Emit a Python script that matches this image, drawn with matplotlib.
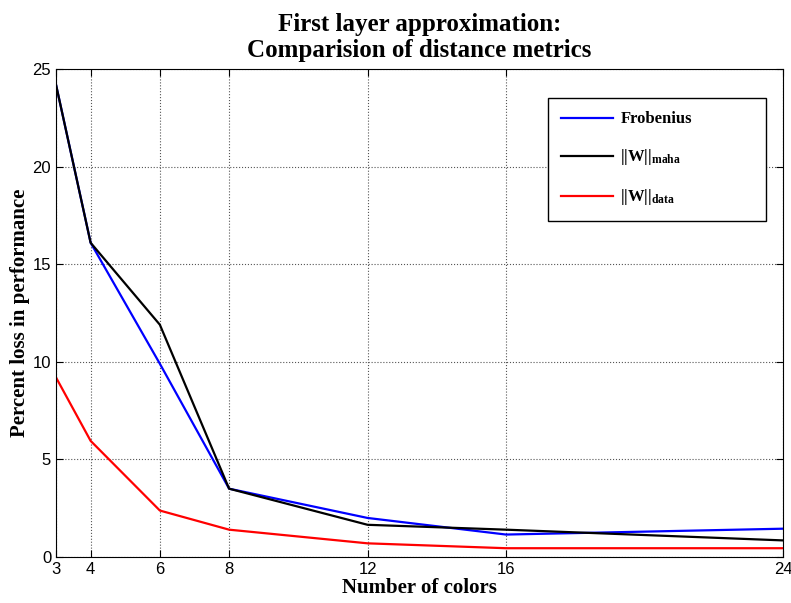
import matplotlib
matplotlib.use("Agg")
import matplotlib.pyplot as plt

colors_n = [3, 4, 6, 8, 12, 16, 24]
frobenius = [24.2, 16.1, 9.9, 3.5, 2.0, 1.15, 1.45]
maha = [24.2, 16.1, 11.9, 3.5, 1.65, 1.4, 0.85]
data = [9.2, 5.95, 2.38, 1.4, 0.7, 0.45, 0.45]

plt.rcParams['mathtext.fontset'] = 'custom'
plt.rcParams['mathtext.rm'] = 'Liberation Serif:bold'
plt.rcParams['mathtext.bf'] = 'Liberation Serif:bold'
plt.rcParams['mathtext.it'] = 'Liberation Serif:bold'

fig = plt.figure(figsize=(7.91, 6.03), dpi=100)
ax = fig.add_axes([56/791, 1-557/603, (783-56)/791, (557-69)/603])

ax.plot(colors_n, frobenius, color='blue', lw=1.6, label='Frobenius')
ax.plot(colors_n, maha, color='black', lw=1.6, label=r'$||\mathrm{W}||_{\mathrm{maha}}$')
ax.plot(colors_n, data, color='red', lw=1.6, label=r'$||\mathrm{W}||_{\mathrm{data}}$')

ax.set_xlim(3, 24)
ax.set_ylim(0, 25)
ax.set_xticks(colors_n)
ax.set_yticks([0, 5, 10, 15, 20, 25])
ax.tick_params(direction='in', labelsize=12, length=5, top=True, right=True)
for lbl in ax.get_xticklabels() + ax.get_yticklabels():
    lbl.set_family('Liberation Sans')
ax.grid(True, linestyle=':', color='#555555', lw=0.8)

ax.set_xlabel('Number of colors', family='Liberation Serif', fontweight='bold', fontsize=15, labelpad=1)
ax.set_ylabel('Percent loss in performance', family='Liberation Serif', fontweight='bold', fontsize=15, labelpad=2)
ax.set_title('First layer approximation:\nComparision of distance metrics', family='Liberation Serif',
             fontweight='bold', fontsize=18, pad=9, linespacing=1.15)

x0, y0, x1, y1 = 548/791, 1-218/603, 766/791, 1-98/603
leg = ax.legend(loc='upper left', bbox_to_anchor=(x0, y0, x1-x0, y1-y0), bbox_transform=fig.transFigure,
                mode='expand',
                prop={'family': 'Liberation Serif', 'weight': 'bold', 'size': 12},
                fancybox=False, edgecolor='black', framealpha=1, labelspacing=1.2,
                handlelength=3.1, handletextpad=0.45, borderpad=0.8, borderaxespad=0)
leg.get_frame().set_linewidth(1.0)

fig.savefig('out.png', dpi=100)
